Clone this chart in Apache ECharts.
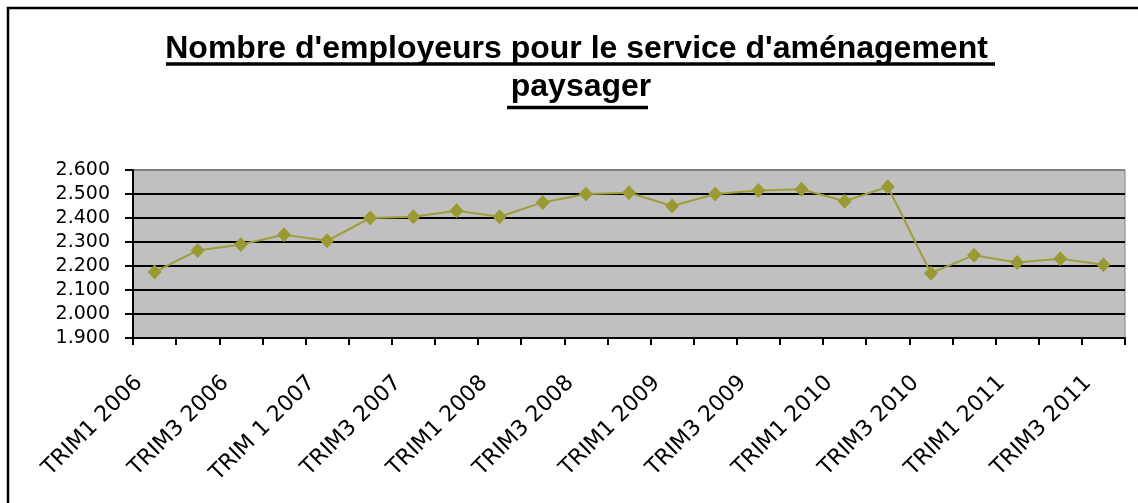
<!DOCTYPE html>
<html>
<head>
<meta charset="utf-8">
<script src="https://cdn.jsdelivr.net/npm/echarts@6/dist/echarts.min.js"></script>
<style>
  html, body { margin: 0; padding: 0; background: #fff; }
  #chart { width: 1138px; height: 503px; }
</style>
</head>
<body>
<div id="chart"></div>
<script>
let chart = echarts.init(document.getElementById('chart'));

// trimestres (un label sur deux est affiché)
let trimestres = [
    'TRIM1 2006', 'TRIM2 2006', 'TRIM3 2006', 'TRIM4 2006',
    'TRIM 1 2007', 'TRIM2 2007', 'TRIM3 2007', 'TRIM4 2007',
    'TRIM1 2008', 'TRIM2 2008', 'TRIM3 2008', 'TRIM4 2008',
    'TRIM1 2009', 'TRIM2 2009', 'TRIM3 2009', 'TRIM4 2009',
    'TRIM1 2010', 'TRIM2 2010', 'TRIM3 2010', 'TRIM4 2010',
    'TRIM1 2011', 'TRIM2 2011', 'TRIM3 2011'
];

// nombre d'employeurs
let employeurs = [
    2175, 2265, 2290, 2330, 2305, 2400, 2405, 2430,
    2405, 2465, 2500, 2505, 2450, 2500, 2515, 2520,
    2470, 2530, 2170, 2245, 2215, 2230, 2205
];

// axe vertical
let y_min = 1900;
let y_max = 2600;
let y_step = 100;

let titre = "Nombre d'employeurs pour le service d'aménagement \npaysager";

// couleurs des lignes de grille (la derniere = bord du graphique)
let grid_colors = ['#000', '#000', '#000', '#000', '#000', '#000', '#000', '#808080'];

let option = {
    backgroundColor: '#fff',
    animation: false,
    title: {
        text: titre,
        left: 576,
        top: 25.5,
        textAlign: 'center',
        textStyle: {
            fontFamily: 'Liberation Sans',
            fontWeight: 'bold',
            fontSize: 32,
            lineHeight: 38,
            color: '#000'
        }
    },
    grid: {
        left: 133,
        right: 13,
        top: 170,
        bottom: 165,
        show: true,
        backgroundColor: '#C0C0C0',
        borderColor: '#808080',
        borderWidth: 1
    },
    xAxis: {
        type: 'category',
        data: trimestres,
        boundaryGap: true,
        axisLine: {
            lineStyle: { color: '#000', width: 2 }
        },
        axisTick: {
            show: true,
            interval: 0,
            length: 7,
            lineStyle: { color: '#000', width: 2 }
        },
        axisLabel: {
            interval: 1,
            rotate: 45,
            margin: 26,
            padding: [0, 22, 0, 0],
            fontFamily: 'DejaVu Sans',
            fontSize: 22,
            color: '#000'
        },
        splitLine: { show: false }
    },
    yAxis: {
        type: 'value',
        min: y_min,
        max: y_max,
        interval: y_step,
        axisLine: {
            show: true,
            lineStyle: { color: '#000', width: 2 }
        },
        axisTick: {
            show: true,
            length: 8,
            lineStyle: { color: '#000', width: 2 }
        },
        axisLabel: {
            margin: 23,
            fontFamily: 'DejaVu Sans',
            fontSize: 19,
            color: '#000',
            formatter: function (v) {
                return (v / 1000).toFixed(3);
            }
        },
        splitLine: {
            show: true,
            lineStyle: { color: grid_colors, width: 2 }
        }
    },
    series: [
        {
            name: 'Employeurs',
            type: 'line',
            data: employeurs,
            symbol: 'diamond',
            symbolSize: [14, 15],
            lineStyle: { color: '#9E9E3A', width: 2 },
            itemStyle: { color: '#9A9A34' }
        }
    ],
    graphic: [
        // cadre du graphique
        {
            type: 'rect',
            shape: { x: 8, y: 8, width: 1200, height: 600 },
            style: { fill: null, stroke: '#000', lineWidth: 2.5 },
            silent: true
        },
        // soulignement du titre
        {
            type: 'line',
            shape: { x1: 166, y1: 64, x2: 995, y2: 64 },
            style: { stroke: '#000', lineWidth: 3.5 },
            silent: true
        },
        {
            type: 'line',
            shape: { x1: 507, y1: 107.5, x2: 648, y2: 107.5 },
            style: { stroke: '#000', lineWidth: 3.5 },
            silent: true
        }
    ]
};

chart.setOption(option);
</script>
</body>
</html>
